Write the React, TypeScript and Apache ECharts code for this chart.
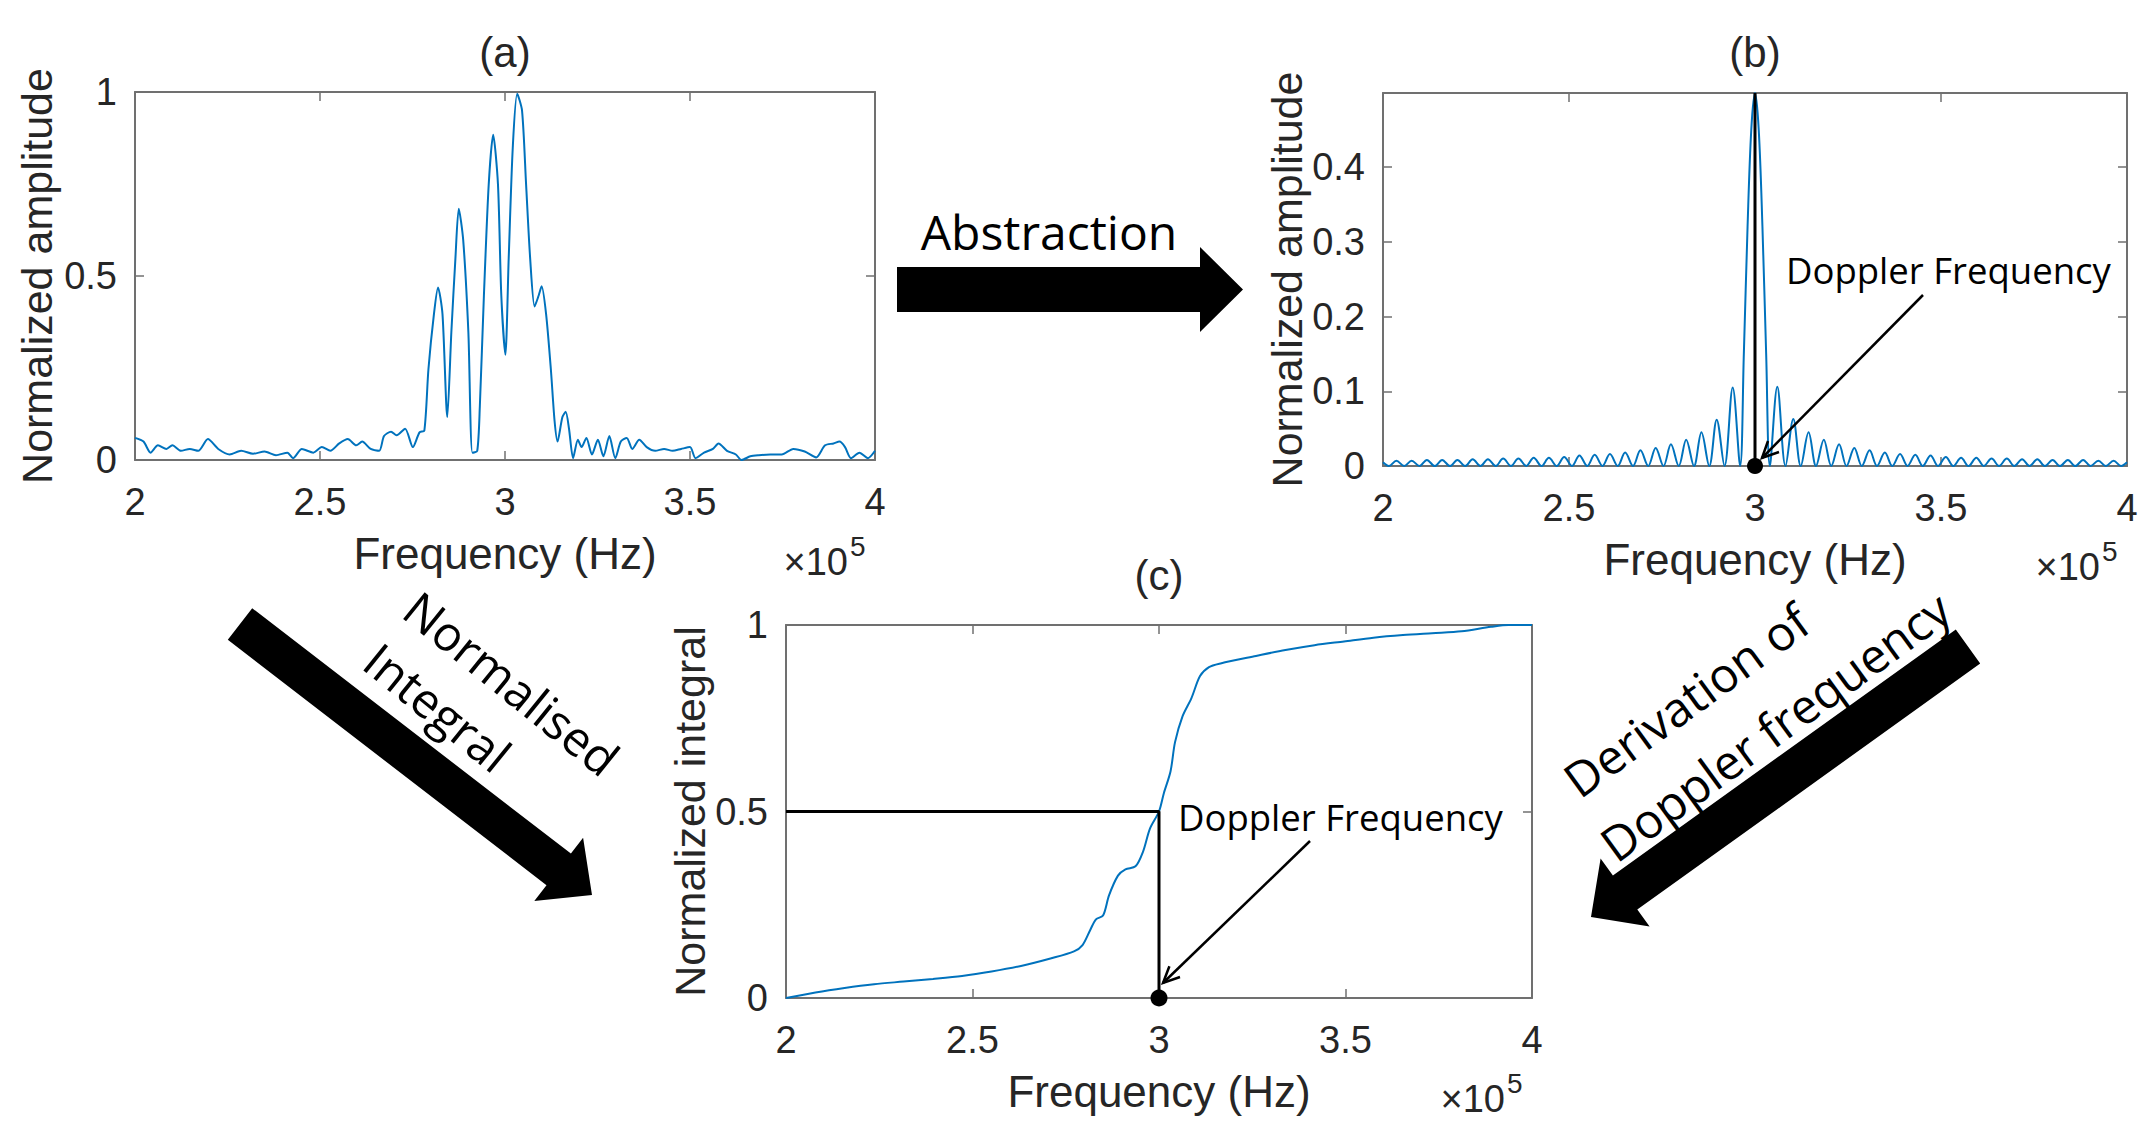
import React, { useEffect, useRef } from "react";
import * as echarts from "echarts";

// ---------------- data (frequency in units of 1e5 Hz) ----------------
// (a) measured spectrum
const aFreq = [
  2.000, 2.023, 2.042, 2.062, 2.085, 2.101, 2.124, 2.148, 2.171, 2.197, 2.225, 2.256, 2.287, 2.319, 2.350,
  2.381, 2.412, 2.427, 2.451, 2.482, 2.505, 2.528, 2.552, 2.575, 2.598, 2.614, 2.637, 2.660, 2.673, 2.692,
  2.707, 2.730, 2.751, 2.769, 2.782, 2.793, 2.808, 2.819, 2.831, 2.844, 2.855, 2.866, 2.875, 2.887, 2.901,
  2.912, 2.925, 2.932, 2.943, 2.956, 2.968, 2.981, 2.990, 3.001, 3.010, 3.021, 3.033, 3.046, 3.057, 3.068,
  3.080, 3.091, 3.099, 3.111, 3.124, 3.134, 3.142, 3.155, 3.164, 3.173, 3.184, 3.197, 3.207, 3.220, 3.235,
  3.251, 3.266, 3.282, 3.298, 3.313, 3.329, 3.344, 3.363, 3.383, 3.406, 3.430, 3.453, 3.476, 3.500, 3.515,
  3.538, 3.562, 3.577, 3.600, 3.624, 3.639, 3.663, 3.686, 3.717, 3.748, 3.779, 3.810, 3.841, 3.865, 3.888,
  3.904, 3.919, 3.935, 3.958, 3.981, 4.000,
];
const aAmp = [
  0.060, 0.050, 0.020, 0.040, 0.030, 0.040, 0.025, 0.030, 0.025, 0.057, 0.030, 0.015, 0.025, 0.017, 0.023,
  0.013, 0.020, 0.005, 0.030, 0.020, 0.035, 0.025, 0.045, 0.057, 0.040, 0.050, 0.030, 0.025, 0.065, 0.077,
  0.067, 0.085, 0.035, 0.075, 0.080, 0.246, 0.397, 0.469, 0.397, 0.116, 0.347, 0.548, 0.683, 0.598, 0.347,
  0.020, 0.025, 0.146, 0.447, 0.749, 0.884, 0.749, 0.447, 0.286, 0.548, 0.849, 0.995, 0.950, 0.749, 0.548,
  0.417, 0.447, 0.472, 0.397, 0.246, 0.106, 0.050, 0.116, 0.131, 0.085, 0.005, 0.055, 0.035, 0.060, 0.015,
  0.055, 0.010, 0.065, 0.005, 0.050, 0.060, 0.030, 0.055, 0.035, 0.025, 0.030, 0.025, 0.030, 0.035, 0.005,
  0.020, 0.030, 0.045, 0.025, 0.015, 0.000, 0.010, 0.013, 0.015, 0.015, 0.030, 0.023, 0.007, 0.040, 0.045,
  0.050, 0.035, 0.005, 0.020, 0.005, 0.025,
];

// (b) abstracted spectrum
const bFreq = [
  2.000,
  2.016, 2.036, 2.057, 2.077, 2.098, 2.118, 2.139, 2.159, 2.180, 2.200, 2.221, 2.241, 2.262, 2.282, 2.303, 2.323,
  2.344, 2.364, 2.385, 2.405, 2.426, 2.446, 2.467, 2.487, 2.508, 2.528, 2.549, 2.569, 2.590, 2.610, 2.631, 2.651,
  2.672, 2.692, 2.713, 2.733, 2.754, 2.774, 2.795, 2.815, 2.836, 2.856, 2.877, 2.897, 2.918, 2.940,
  2.960, 2.970, 2.980, 2.990, 3.000, 3.010, 3.020, 3.030, 3.040,
  3.060, 3.082, 3.103, 3.123, 3.144, 3.164, 3.185, 3.205, 3.226, 3.246, 3.267, 3.287, 3.308, 3.328, 3.349, 3.369,
  3.390, 3.410, 3.431, 3.451, 3.472, 3.492, 3.513, 3.533, 3.554, 3.574, 3.595, 3.615, 3.636, 3.656, 3.677, 3.697,
  3.718, 3.738, 3.759, 3.779, 3.800, 3.820, 3.841, 3.861, 3.882, 3.902, 3.923, 3.943, 3.964, 3.984,
  4.000,
];
const bAmp = [
  0.005,
  0, 0.007, 0, 0.007, 0, 0.008, 0, 0.008, 0, 0.008, 0, 0.009, 0, 0.009, 0, 0.010,
  0, 0.010, 0, 0.011, 0, 0.011, 0, 0.012, 0, 0.014, 0, 0.015, 0, 0.016, 0, 0.018,
  0, 0.021, 0, 0.024, 0, 0.029, 0, 0.035, 0, 0.045, 0, 0.062, 0, 0.105,
  0, 0.15, 0.32, 0.45, 0.499, 0.45, 0.32, 0.15, 0,
  0.106, 0, 0.063, 0, 0.045, 0, 0.035, 0, 0.029, 0, 0.024, 0, 0.021, 0, 0.018, 0,
  0.016, 0, 0.015, 0, 0.014, 0, 0.012, 0, 0.011, 0, 0.011, 0, 0.010, 0, 0.010, 0,
  0.009, 0, 0.009, 0, 0.008, 0, 0.008, 0, 0.008, 0, 0.007, 0, 0.007, 0,
  0.005,
];

// (c) normalised integral
const cFreq = [
  2.000, 2.079, 2.157, 2.236, 2.315, 2.394, 2.472, 2.551, 2.630, 2.709, 2.772, 2.795, 2.815, 2.831, 2.850,
  2.866, 2.890, 2.910, 2.937, 2.957, 2.976, 3.000, 3.013, 3.031, 3.043, 3.063, 3.087, 3.110, 3.134, 3.165,
  3.260, 3.339, 3.417, 3.496, 3.575, 3.654, 3.732, 3.811, 3.890, 3.937, 4.000,
];
const cInt = [
  0.000, 0.015, 0.027, 0.037, 0.044, 0.051, 0.059, 0.071, 0.086, 0.106, 0.125, 0.142, 0.181, 0.211, 0.221,
  0.275, 0.328, 0.345, 0.353, 0.392, 0.455, 0.500, 0.549, 0.608, 0.686, 0.755, 0.804, 0.863, 0.887, 0.897,
  0.917, 0.933, 0.946, 0.956, 0.966, 0.973, 0.978, 0.983, 0.995, 1.000, 1.000,
];

const dopplerFreq = 3.0;
const bPeak = 0.499;
const halfLevel = 0.5;

// ---------------- styles ----------------
const BLUE = "#0072BD";
const FRAME = "#707070";
const TXT = "#262626";
const FONT_AX = "'Liberation Sans', Arial, Helvetica, sans-serif";
const FONT_ANN = "'Open Sans', 'Noto Sans', sans-serif";

const zip = (xs: number[], ys: number[]) => xs.map((x, i) => [x, ys[i]]);

function bottomX(g: number) {
  return {
    type: "value", gridIndex: g, position: "bottom", min: 2, max: 4, interval: 0.5,
    axisLine: { show: true, onZero: false, lineStyle: { color: FRAME, width: 2 } },
    axisTick: { show: true, inside: true, length: 9, lineStyle: { color: FRAME, width: 1.5 } },
    axisLabel: { show: true, margin: 23, fontSize: 38, color: TXT, fontFamily: FONT_AX },
    splitLine: { show: false },
    name: "Frequency (Hz)", nameLocation: "middle", nameGap: 71,
    nameTextStyle: { fontSize: 44, color: TXT, fontFamily: FONT_AX },
  };
}
function topX(g: number) {
  return {
    type: "value", gridIndex: g, position: "top", min: 2, max: 4, interval: 0.5,
    axisLine: { show: true, onZero: false, lineStyle: { color: FRAME, width: 2 } },
    axisTick: { show: true, inside: true, length: 9, lineStyle: { color: FRAME, width: 1.5 } },
    axisLabel: { show: false }, splitLine: { show: false },
  };
}
function leftY(g: number, max: number, interval: number, name: string, gap: number, showMax: boolean) {
  return {
    type: "value", gridIndex: g, position: "left", min: 0, max, interval,
    axisLine: { show: true, onZero: false, lineStyle: { color: FRAME, width: 2 } },
    axisTick: { show: true, inside: true, length: 9, lineStyle: { color: FRAME, width: 1.5 } },
    axisLabel: { show: true, margin: 18, fontSize: 38, color: TXT, fontFamily: FONT_AX, showMaxLabel: showMax },
    splitLine: { show: false },
    name, nameLocation: "middle", nameGap: gap,
    nameTextStyle: { fontSize: 43, color: TXT, fontFamily: FONT_AX },
  };
}
function rightY(g: number, max: number, interval: number) {
  return {
    type: "value", gridIndex: g, position: "right", min: 0, max, interval,
    axisLine: { show: true, onZero: false, lineStyle: { color: FRAME, width: 2 } },
    axisTick: { show: true, inside: true, length: 9, lineStyle: { color: FRAME, width: 1.5 } },
    axisLabel: { show: false }, splitLine: { show: false },
  };
}

function txt(text: string, x: number, y: number, size: number, family: string, opts: any = {}) {
  return {
    type: "text", x, y, rotation: opts.rotation || 0, z: 10,
    style: {
      text, fontSize: size, fontFamily: family, fill: opts.fill || "#000",
      align: opts.align || "center", verticalAlign: "middle",
    },
  };
}

function arrowHead(px: number, py: number, pts: number[][]) {
  return { type: "polyline", z: 10, shape: { points: [pts[0], [px, py], pts[1]] }, style: { stroke: "#000", lineWidth: 2.5, fill: null } };
}

function buildOption() {
  const grids = [
    { left: 135, top: 92, width: 740, height: 368 },
    { left: 1383, top: 93, width: 744, height: 373 },
    { left: 786, top: 625, width: 746, height: 373 },
  ].map((g) => ({ ...g, containLabel: false, outerBoundsMode: "none", show: false }));

  const elements: any[] = [
    // panel titles
    txt("(a)", 505, 52, 42, FONT_AX, { fill: TXT }),
    txt("(b)", 1755, 52, 42, FONT_AX, { fill: TXT }),
    txt("(c)", 1159, 575, 42, FONT_AX, { fill: TXT }),
    // x10^5 exponents
    txt("×10", 848, 562, 38, FONT_AX, { fill: TXT, align: "right" }),
    txt("5", 850, 546, 28, FONT_AX, { fill: TXT, align: "left" }),
    txt("×10", 2100, 567, 38, FONT_AX, { fill: TXT, align: "right" }),
    txt("5", 2102, 551, 28, FONT_AX, { fill: TXT, align: "left" }),
    txt("×10", 1505, 1099, 38, FONT_AX, { fill: TXT, align: "right" }),
    txt("5", 1507, 1083, 28, FONT_AX, { fill: TXT, align: "left" }),
    // big process arrows
    {
      type: "polygon", z: 5,
      shape: { points: [[897, 267], [1200, 267], [1200, 247], [1243, 289.5], [1200, 332], [1200, 312], [897, 312]] },
      style: { fill: "#000" },
    },
    {
      type: "polygon", z: 5,
      shape: { points: [[252.2, 608.2], [570.9, 853.6], [583.1, 837.7], [592, 895], [534.3, 901.1], [546.5, 885.2], [227.8, 639.8]] },
      style: { fill: "#000" },
    },
    {
      type: "polygon", z: 5,
      shape: { points: [[1955.8, 629.4], [1612.9, 875.4], [1600.6, 858.4], [1591, 917], [1649.6, 926.6], [1637.3, 909.6], [1980.2, 663.6]] },
      style: { fill: "#000" },
    },
    txt("Abstraction", 1049, 231, 48, FONT_ANN),
    txt("Normalised", 512, 683, 48, FONT_ANN, { rotation: -0.68 }),
    txt("Integral", 438, 707, 48, FONT_ANN, { rotation: -0.68 }),
    txt("Derivation of", 1686, 700, 48, FONT_ANN, { rotation: 0.63 }),
    txt("Doppler frequency", 1775, 726, 48, FONT_ANN, { rotation: 0.63 }),
    // annotations
    txt("Doppler Frequency", 1786, 270, 36.5, FONT_ANN, { align: "left" }),
    { type: "line", z: 10, shape: { x1: 1923, y1: 295, x2: 1762, y2: 458 }, style: { stroke: "#000", lineWidth: 2.5 } },
    arrowHead(1762, 458, [[1779, 452], [1768, 441]]),
    txt("Doppler Frequency", 1178, 817, 36.5, FONT_ANN, { align: "left" }),
    { type: "line", z: 10, shape: { x1: 1310, y1: 841, x2: 1163, y2: 983 }, style: { stroke: "#000", lineWidth: 2.5 } },
    arrowHead(1163, 983, [[1180, 977], [1169.4, 966.2]]),
  ];

  return {
    animation: false,
    backgroundColor: "#ffffff",
    textStyle: { fontFamily: FONT_AX },
    grid: grids,
    xAxis: [bottomX(0), topX(0), bottomX(1), topX(1), bottomX(2), topX(2)],
    yAxis: [
      leftY(0, 1, 0.5, "Normalized amplitude", 77, true), rightY(0, 1, 0.5),
      leftY(1, bPeak, 0.1, "Normalized amplitude", 73, false), rightY(1, bPeak, 0.1),
      leftY(2, 1, 0.5, "Normalized integral", 70, true), rightY(2, 1, 0.5),
    ],
    series: [
      {
        type: "line", xAxisIndex: 0, yAxisIndex: 0, data: zip(aFreq, aAmp), showSymbol: false, symbol: "none",
        smooth: 0.25, lineStyle: { color: BLUE, width: 2 }, itemStyle: { color: BLUE },
      },
      {
        type: "line", xAxisIndex: 2, yAxisIndex: 2, data: zip(bFreq, bAmp), showSymbol: false, symbol: "none",
        smooth: 0.35, lineStyle: { color: BLUE, width: 2 }, itemStyle: { color: BLUE },
      },
      {
        type: "line", xAxisIndex: 2, yAxisIndex: 2, data: [[dopplerFreq, 0], [dopplerFreq, bPeak]], symbol: "none",
        lineStyle: { color: "#000", width: 3 }, itemStyle: { color: "#000" }, z: 4,
      },
      {
        type: "scatter", xAxisIndex: 2, yAxisIndex: 2, data: [[dopplerFreq, 0]], symbolSize: 16, clip: false,
        itemStyle: { color: "#000", opacity: 1 }, z: 5,
      },
      {
        type: "line", xAxisIndex: 4, yAxisIndex: 4, data: zip(cFreq, cInt), showSymbol: false, symbol: "none",
        smooth: 0.3, lineStyle: { color: BLUE, width: 2 }, itemStyle: { color: BLUE },
      },
      {
        type: "line", xAxisIndex: 4, yAxisIndex: 4,
        data: [[2, halfLevel], [dopplerFreq, halfLevel], [dopplerFreq, 0]], symbol: "none",
        lineStyle: { color: "#000", width: 3 }, itemStyle: { color: "#000" }, z: 4,
      },
      {
        type: "scatter", xAxisIndex: 4, yAxisIndex: 4, data: [[dopplerFreq, 0]], symbolSize: 17, clip: false,
        itemStyle: { color: "#000", opacity: 1 }, z: 5,
      },
    ],
    graphic: { elements },
  };
}

export default function App() {
  const ref = useRef<HTMLDivElement>(null);
  useEffect(() => {
    const chart = echarts.init(ref.current as HTMLDivElement, null, { renderer: "svg" });
    chart.setOption(buildOption() as any);
    return () => chart.dispose();
  }, []);
  return (
    <div
      ref={ref}
      style={{ position: "fixed", left: 0, top: 0, width: 2156, height: 1131, background: "#ffffff" }}
    />
  );
}
